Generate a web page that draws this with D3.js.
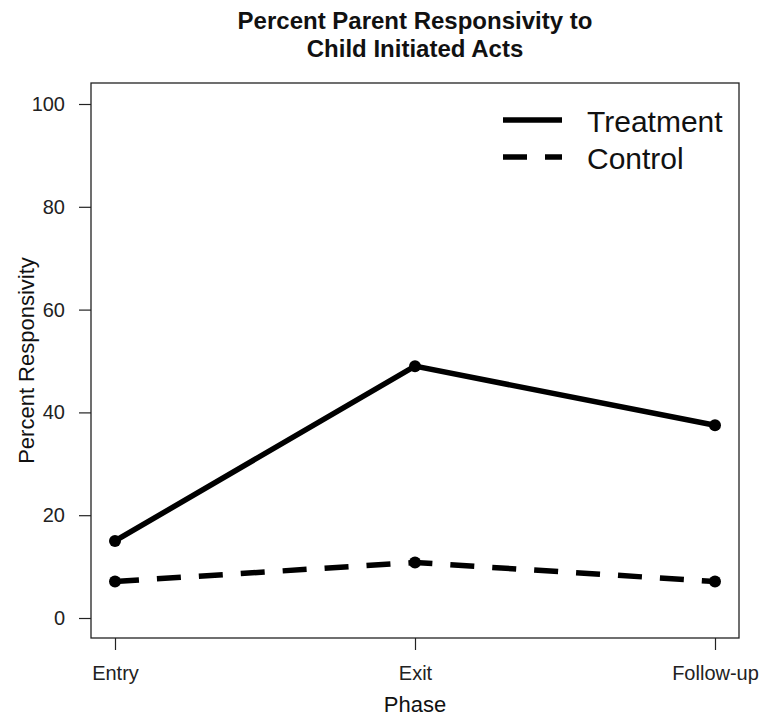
<!DOCTYPE html>
<html>
<head>
<meta charset="utf-8">
<script src="https://cdn.jsdelivr.net/npm/d3@7"></script>
<style>
  body { margin: 0; background: #fff; }
</style>
</head>
<body>
<div id="chart-area"></div>
<script>
// Data
var phases = ["Entry", "Exit", "Follow-up"];
var treatment = [15, 49, 37.5];
var control = [7.1, 10.8, 7.1];
var yTicks = [0, 20, 40, 60, 80, 100];
var seriesNames = ["Treatment", "Control"];

var width = 765, height = 718;
var box = { left: 91, right: 739, top: 83, bottom: 638 };

var svg = d3.select("#chart-area")
    .append("svg")
    .attr("width", width)
    .attr("height", height)
    .style("font-family", "'Liberation Sans', Arial, sans-serif");

// SCALES
var x = d3.scalePoint()
    .domain(phases)
    .range([box.left, box.right])
    .padding(0.08);

var y = d3.scaleLinear()
    .domain([0, 100])
    .range([618, 104]);

// box
svg.append("rect")
    .attr("x", box.left)
    .attr("y", box.top)
    .attr("width", box.right - box.left)
    .attr("height", box.bottom - box.top)
    .attr("fill", "none")
    .attr("stroke", "#222")
    .attr("stroke-width", 1.3);

//---AXES
var leftAxis = d3.axisLeft(y).tickValues(yTicks).tickSize(12).tickPadding(14);
var gy = svg.append("g")
    .attr("transform", "translate(" + box.left + ",0)")
    .call(leftAxis);
gy.select(".domain").remove();
gy.selectAll("line").attr("stroke", "#222").attr("stroke-width", 1.2);
gy.selectAll("text")
    .attr("font-size", "20px")
    .attr("font-family", "'Liberation Sans', Arial, sans-serif")
    .attr("fill", "#222");

var bottomAxis = d3.axisBottom(x).tickSize(12).tickPadding(16);
var gx = svg.append("g")
    .attr("transform", "translate(0," + box.bottom + ")")
    .call(bottomAxis);
gx.select(".domain").remove();
gx.selectAll("line").attr("stroke", "#222").attr("stroke-width", 1.2);
gx.selectAll("text")
    .attr("font-size", "20px")
    .attr("font-family", "'Liberation Sans', Arial, sans-serif")
    .attr("fill", "#222");

//---TITLES
var title = svg.append("text")
    .attr("text-anchor", "middle")
    .attr("font-weight", "bold")
    .attr("font-size", "24px")
    .attr("fill", "#111");
title.append("tspan").attr("x", (box.left + box.right) / 2).attr("y", 29).text("Percent Parent Responsivity to");
title.append("tspan").attr("x", (box.left + box.right) / 2).attr("y", 57).text("Child Initiated Acts");

svg.append("text")
    .attr("x", (box.left + box.right) / 2)
    .attr("y", 712)
    .attr("text-anchor", "middle")
    .attr("font-size", "22px")
    .attr("fill", "#111")
    .text("Phase");

svg.append("text")
    .attr("transform", "translate(34," + ((box.top + box.bottom) / 2) + ") rotate(-90)")
    .attr("text-anchor", "middle")
    .attr("font-size", "22px")
    .attr("fill", "#111")
    .text("Percent Responsivity");

//---LINES
var series = [
    { name: seriesNames[0], values: treatment, dash: null },
    { name: seriesNames[1], values: control, dash: "24,18" }
];

var line = d3.line()
    .x((d, i) => x(phases[i]))
    .y((d) => y(d));

series.forEach((s) => {
    svg.append("path")
        .datum(s.values)
        .attr("d", line)
        .attr("fill", "none")
        .attr("stroke", "#000")
        .attr("stroke-width", 5.5)
        .attr("stroke-dasharray", s.dash);

    svg.selectAll(null)
        .data(s.values)
        .enter()
        .append("circle")
        .attr("cx", (d, i) => x(phases[i]))
        .attr("cy", (d) => y(d))
        .attr("r", 6)
        .attr("fill", "#000");
});

//---LEGEND
var legend = svg.append("g").attr("transform", "translate(503,120)");
series.forEach((s, i) => {
    legend.append("line")
        .attr("x1", 0).attr("x2", 59)
        .attr("y1", i * 37).attr("y2", i * 37)
        .attr("stroke", "#000")
        .attr("stroke-width", 5.5)
        .attr("stroke-dasharray", s.dash);
    legend.append("text")
        .attr("x", 84)
        .attr("y", i * 37 + 12)
        .attr("font-size", "30px")
        .attr("fill", "#111")
        .text(s.name);
});
</script>
</body>
</html>
